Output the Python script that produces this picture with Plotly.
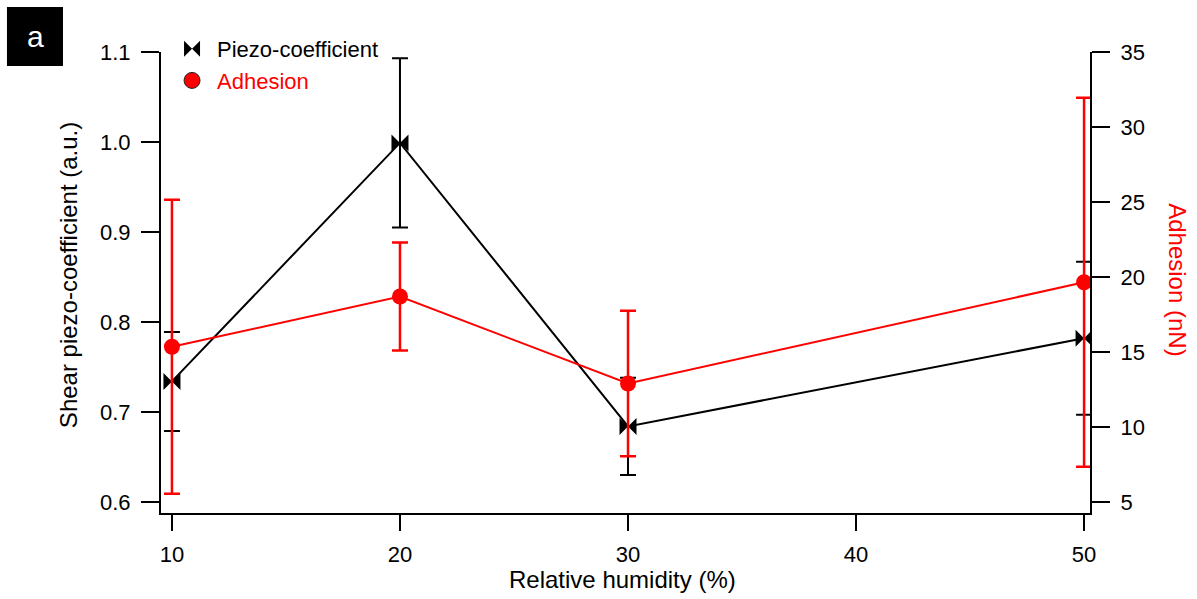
import plotly.graph_objects as go

humidity = [10, 20, 30, 50]
piezo = [0.734, 0.999, 0.684, 0.782]
piezo_err = [0.055, 0.094, 0.054, 0.085]
adhesion = [15.35, 18.7, 12.9, 19.65]
adhesion_err = [9.8, 3.6, 4.85, 12.3]

x_ticks = [10, 20, 30, 40, 50]
left_ticks = [0.6, 0.7, 0.8, 0.9, 1.0, 1.1]
right_ticks = [5, 10, 15, 20, 25, 30, 35]

FONT = "Liberation Sans, Arial, sans-serif"
RED = "#ff0000"

fig = go.Figure()

fig.add_trace(go.Scatter(
    x=humidity, y=piezo, mode="lines+markers", yaxis="y",
    line=dict(color="black", width=2),
    marker=dict(symbol="bowtie", size=17, color="black"),
    error_y=dict(type="data", array=piezo_err, visible=True, color="black", thickness=2, width=8),
    showlegend=False,
))
fig.add_trace(go.Scatter(
    x=humidity, y=adhesion, mode="lines+markers", yaxis="y2",
    line=dict(color=RED, width=2),
    marker=dict(symbol="circle", size=16, color=RED),
    error_y=dict(type="data", array=adhesion_err, visible=True, color=RED, thickness=2.5, width=8),
    showlegend=False,
))
# legend entries
fig.add_trace(go.Scatter(
    x=[None], y=[None], mode="markers", name="Piezo-coefficient",
    marker=dict(symbol="bowtie", size=17, color="black"),
))
fig.add_trace(go.Scatter(
    x=[None], y=[None], mode="markers",
    name="<span style='color:#ff0000'>Adhesion</span>",
    marker=dict(symbol="circle", size=16, color=RED, line=dict(color="#222", width=1)),
))

axis_common = dict(
    showline=True, linecolor="black", linewidth=2, ticks="outside",
    ticklen=18, tickwidth=2, tickcolor="black", showgrid=False, zeroline=False,
    tickfont=dict(family=FONT, size=22, color="black"),
)

fig.update_layout(
    width=1197, height=599,
    margin=dict(l=161, r=107, t=52, b=86, autoexpand=False),
    paper_bgcolor="white", plot_bgcolor="white",
    font=dict(family=FONT, size=22, color="black"),
    xaxis=dict(
        range=[9.52, 50.26], tickvals=x_ticks,
        **{**axis_common, "ticklen": 16},
        ticklabelstandoff=5,
    ),
    yaxis=dict(
        range=[0.5878, 1.1], tickvals=left_ticks, tickformat=".1f",
        ticklabelstandoff=6,
        **axis_common,
    ),
    yaxis2=dict(
        range=[4.267, 35], tickvals=right_ticks,
        overlaying="y", side="right", anchor="x",
        ticklabelstandoff=6,
        **axis_common,
    ),
    legend=dict(
        x=0.0065, y=1.052, xanchor="left", yanchor="top",
        bgcolor="rgba(0,0,0,0)", font=dict(family=FONT, size=22, color="black"),
        itemwidth=40, tracegroupgap=0,
    ),
    shapes=[dict(
        type="rect", xref="paper", yref="paper",
        x0=-0.1658, x1=-0.1055, y0=0.9696, y1=1.0976,
        fillcolor="black", line=dict(width=0),
    )],
    annotations=[
        dict(text="a", xref="paper", yref="paper", x=-0.1356, y=1.0336,
             showarrow=False, font=dict(family=FONT, size=30, color="white"),
             xanchor="center", yanchor="middle"),
        dict(text="Shear piezo-coefficient (a.u.)", xref="paper", yref="paper",
             x=-0.1001, y=0.516, showarrow=False, textangle=-90,
             font=dict(family=FONT, size=24, color="black"),
             xanchor="center", yanchor="middle"),
        dict(text="Relative humidity (%)", xref="paper", yref="paper",
             x=0.497, y=-0.145, showarrow=False,
             font=dict(family=FONT, size=24, color="black"),
             xanchor="center", yanchor="middle"),
        dict(text="Adhesion (nN)", xref="paper", yref="paper", x=1.0947, y=0.505,
             showarrow=False, textangle=90, font=dict(family=FONT, size=24, color=RED),
             xanchor="center", yanchor="middle"),
    ],
)

fig.write_html(
    "out.html",
    config={"displayModeBar": False},
    post_script="document.body.style.margin='0';document.body.style.padding='0';",
)
